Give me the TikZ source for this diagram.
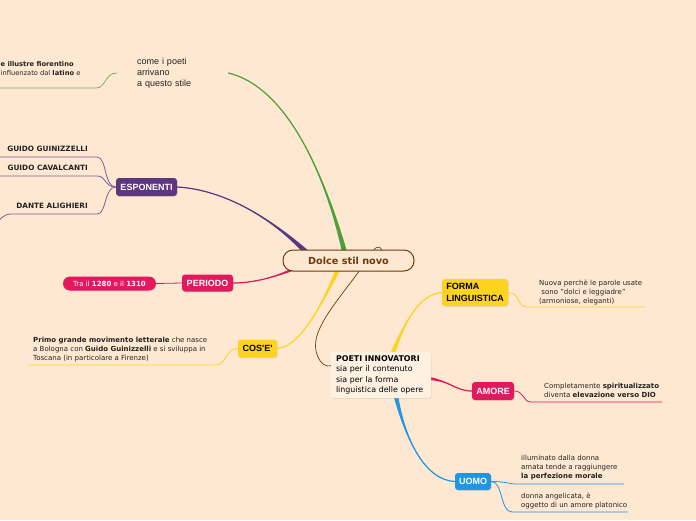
\documentclass[tikz,border=0pt]{standalone}
\usepackage{fontspec}
\setmainfont{DejaVu Sans}
\newfontfamily\arialfont{Liberation Sans}
\usetikzlibrary{calc,shadows}
\pgfdeclarelayer{sotto}
\pgfsetlayers{sotto,main}

\definecolor{sfondo}{RGB}{255,232,209}
\definecolor{carta}{RGB}{255,241,226}
\definecolor{verde}{RGB}{78,160,58}
\definecolor{viola}{RGB}{94,53,128}
\definecolor{rosa}{RGB}{226,25,95}
\definecolor{giallo}{RGB}{252,211,30}
\definecolor{blu}{RGB}{31,150,228}
\definecolor{marrone}{RGB}{107,58,16}
\definecolor{inchiostro}{RGB}{34,34,34}

\tikzset{
    box/.style={rounded corners=3pt, inner sep=0pt, align=left,
        font=\arialfont\fontsize{9}{11.5}\selectfont\bfseries,
        drop shadow={opacity=0.18, shadow xshift=0.6pt, shadow yshift=-0.9pt}},
    nota/.style={inner sep=0pt, align=left, text=inchiostro,
        font=\fontsize{7}{9}\selectfont},
    filo/.style={line width=0.8pt},
}

% 渐细的分支: 颜色, 起点, 控制点1, 控制点2, 终点, 半宽偏移
\newcommand{\ramo}[6]{%
    \fill[#1] ($(#2)+(#6)$) .. controls (#3) and (#4) .. (#5)
        .. controls (#4) and (#3) .. ($(#2)-(#6)$) -- cycle;
    \draw[#1, line width=1.2pt] (#2) .. controls (#3) and (#4) .. (#5);
}

\begin{document}
\begin{tikzpicture}[x=1pt, y=-1pt]
    \useasboundingbox (0,0) rectangle (696,520);
    \begin{pgfonlayer}{sotto}
        \fill[sfondo] (0,0) rectangle (696,520);
    \end{pgfonlayer}

    % 中心节点
    \node[draw=marrone, line width=1pt, fill=sfondo, rounded corners=10pt,
        minimum width=131, minimum height=21, text=marrone,
        font=\fontsize{9.7}{11}\selectfont\bfseries] (dsn) at (348.5,260.5) {Dolce stil novo};

    % 主题方框
    \node[box, fill=viola, text=white, minimum width=61, minimum height=18] (esp) at (146.5,187) {ESPONENTI};
    \node[box, fill=rosa, text=white, minimum width=51, minimum height=17] (per) at (207.5,283) {PERIODO};
    \node[box, fill=rosa, text=white, rounded corners=7pt, minimum width=93, minimum height=14,
        font=\fontsize{7}{9}\selectfont] (tra) at (109.5,283.5) {Tra il \textbf{1280} e il \textbf{1310}};
    \node[box, fill=giallo, text=black, minimum width=39, minimum height=18] (cos) at (257.5,348.5) {COS'E'};
    \node[box, fill=carta, text=black, minimum width=100, minimum height=46, text width=90,
        inner xsep=5pt, font=\fontsize{7.9}{10.3}\selectfont] (poeti) at (381,375)
        {\textbf{POETI INNOVATORI}\\sia per il contenuto\\sia per la forma\\linguistica delle opere};
    \node[box, fill=giallo, text=black, minimum width=66, minimum height=27] (forma) at (475,292.5) {FORMA\\LINGUISTICA};
    \node[box, fill=rosa, text=white, minimum width=42, minimum height=18] (amore) at (493,391) {AMORE};
    \node[box, fill=blu, text=white, minimum width=36, minimum height=17] (uomo) at (473,481.5) {UOMO};

    % 文字说明
    \node[nota, text width=71, inner xsep=20pt, font=\arialfont\fontsize{9}{11}\selectfont] (come) at (172.5,73)
        {come i poeti\\arrivano\\a questo stile};
    \node[nota, anchor=west, font=\fontsize{6.7}{9}\selectfont] (fior) at (0.5,68.5)
        {\textbf{e illustre fiorentino}\\influenzato dal \textbf{latino} e};
    \foreach \n/\y/\t in {gui/149/GUIDO GUINIZZELLI, cav/168/GUIDO CAVALCANTI, dan/206/DANTE ALIGHIERI} {
        \node[nota, anchor=east, font=\fontsize{7.3}{9}\selectfont\bfseries] (\n) at (88,\y) {\t};
    }
    \node[nota, anchor=west] (prim) at (33,350)
        {\textbf{Primo grande movimento letterale} che nasce\\a Bologna con \textbf{Guido Guinizzelli} e si sviluppa in\\Toscana (in particolare a Firenze)};
    \node[nota, anchor=west] (nuova) at (539,292)
        {Nuova perchè le parole usate\\\ sono "dolci e leggiadre"\\(armoniose, eleganti)};
    \node[nota, anchor=west] (spir) at (544,390.5)
        {Completamente \textbf{spiritualizzato}\\diventa \textbf{elevazione verso DIO}};
    \node[nota, anchor=west] (illu) at (521,468)
        {illuminato dalla donna\\amata tende a raggiungere\\\textbf{la perfezione morale}};
    \node[nota, anchor=west] (donna) at (521,500.5)
        {donna angelicata, è\\oggetto di un amore platonico};

    % 下划线端点
    \coordinate (v1) at (96,88);   \coordinate (v0) at (-2,88);
    \coordinate (p1) at (97,157);  \coordinate (p1s) at (-2,157);
    \coordinate (p2) at (97,176);  \coordinate (p2s) at (-2,176);
    \coordinate (p3) at (97,214);  \coordinate (p3s) at (10,214);
    \coordinate (p3z) at (-4,223);
    \coordinate (y1) at (216,365); \coordinate (y1s) at (28,365);
    \coordinate (f1) at (527,307); \coordinate (f1s) at (645,307);
    \coordinate (a1) at (531,402); \coordinate (a1s) at (662,402);
    \coordinate (u1) at (518,484); \coordinate (u1s) at (624,484);
    \coordinate (u2) at (512,512); \coordinate (u2s) at (628,512);

    % 分支起点 (藏在方框下面)
    \coordinate (sv) at (347,262);
    \coordinate (sp) at (312,258);
    \coordinate (sr) at (300,266);
    \coordinate (sg) at (340,265);
    \coordinate (fy) at (391,358);
    \coordinate (fr) at (425,378);
    \coordinate (fb) at (395,392);
    \coordinate (gancio) at (382,250);

    \begin{pgfonlayer}{sotto}
        % 粗分支
        \ramo{verde}{sv}{330,190}{292,88}{come.east}{3,0}
        \ramo{viola}{sp}{280,225}{230,190}{esp.east}{2.2,-2.2}
        \ramo{rosa}{sr}{280,276}{255,283}{per.east}{0.8,2}
        \ramo{giallo}{sg}{322,305}{300,347}{cos.east}{2.5,0.8}
        \ramo{giallo}{fy}{405,320}{420,294}{forma.west}{2.5,0.8}
        \ramo{rosa}{fr}{450,380}{455,391}{amore.west}{0,2}
        \ramo{blu}{fb}{405,440}{425,480}{uomo.west}{2.5,0}

        % 细连线
        \draw[marrone, line width=0.7pt] (gancio) .. controls (380,246) and (376,246) .. (373,251)
            .. controls (345,295) and (305,330) .. (318,357)
            .. controls (321,364) and (326,367) .. ($(poeti.north west)+(0,14)$);
        \draw[filo, verde!80] (come.west) .. controls +(-12,0) and +(10,0) .. (v1) -- (v0);
        \foreach \p/\q in {p1/p1s, p2/p2s, p3/p3s} {
            \draw[filo, viola!80] (esp.west) .. controls +(-12,0) and +(10,0) .. (\p) -- (\q);
        }
        \draw[filo, viola!80] (p3s) .. controls +(-5,0) and +(4,-4) .. (p3z);
        \draw[filo, rosa] (tra.east) -- (per.west);
        \draw[filo, giallo] (cos.west) .. controls +(-12,0) and +(10,0) .. (y1) -- (y1s);
        \draw[filo, giallo] (forma.east) .. controls +(12,0) and +(-10,0) .. (f1) -- (f1s);
        \draw[filo, rosa] (amore.east) .. controls +(10,0) and +(-8,0) .. (a1) -- (a1s);
        \draw[filo, blu] (uomo.east) .. controls +(15,0) and +(-10,0) .. (u1) -- (u1s);
        \draw[filo, blu] (uomo.east) .. controls +(12,0) and +(-12,0) .. (u2) -- (u2s);
    \end{pgfonlayer}
\end{tikzpicture}
\end{document}
